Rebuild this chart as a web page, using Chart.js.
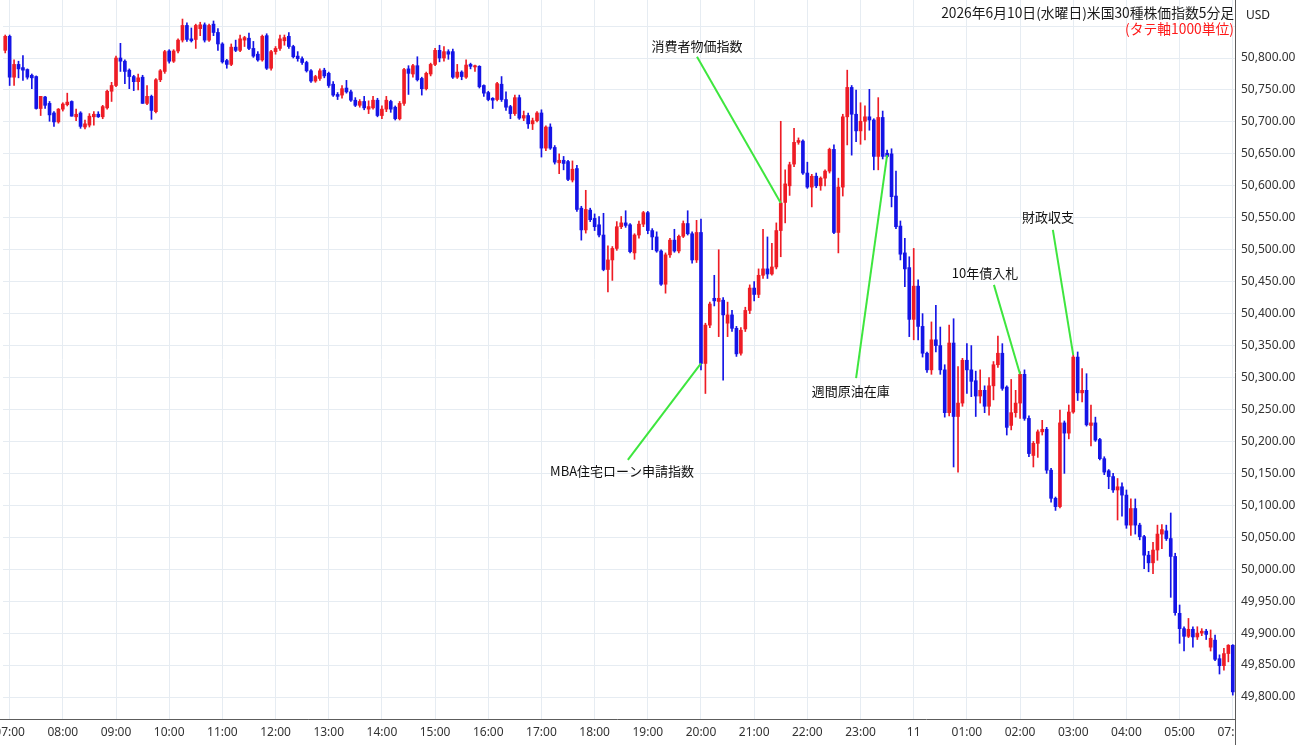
<!DOCTYPE html>
<html lang="ja">
<head>
<meta charset="utf-8">
<title>米国30種株価指数5分足</title>
<script src="https://cdn.jsdelivr.net/npm/chart.js@4.4.1/dist/chart.umd.min.js"></script>
<style>
  html, body { margin: 0; padding: 0; background: #fff; }
  #box { width: 1300px; height: 745px; }
</style>
</head>
<body>
<div id="box"><canvas id="dowChart" width="1300" height="745"></canvas></div>
<script>
// 5-minute candles: 06:55 ... 05:55 (next day), then the 07:00 open
// one row = one hour (12 candles)
const openPrices = [
  50812,
  50834, 50770, 50790, 50785, 50782, 50773, 50771, 50721, 50739, 50729, 50714, 50700,
  50720, 50727, 50732, 50708, 50714, 50692, 50695, 50708, 50712, 50708, 50722, 50748,
  50757, 50800, 50795, 50781, 50771, 50763, 50770, 50729, 50740, 50716, 50766, 50779,
  50811, 50795, 50811, 50828, 50851, 50830, 50829, 50846, 50852, 50828, 50853, 50840,
  50822, 50796, 50790, 50817, 50812, 50828, 50831, 50815, 50806, 50797, 50835, 50784,
  50810, 50815, 50827, 50834, 50818, 50803, 50799, 50793, 50780, 50764, 50768, 50781,
  50776, 50759, 50743, 50742, 50753, 50747, 50734, 50726, 50732, 50720, 50722, 50734,
  50710, 50720, 50732, 50723, 50705, 50729, 50783, 50775, 50788, 50768, 50752, 50775,
  50790, 50812, 50800, 50810, 50810, 50770, 50778, 50770, 50790, 50786, 50787, 50757,
  50746, 50737, 50735, 50759, 50735, 50724, 50713, 50738, 50706, 50710, 50697, 50702,
  50714, 50659, 50692, 50660, 50636, 50640, 50638, 50609, 50627, 50565, 50531, 50562,
  50549, 50539, 50523, 50469, 50484, 50502, 50536, 50542, 50539, 50495, 50523, 50540,
  50558, 50530, 50520, 50498, 50446, 50492, 50515, 50498, 50521, 50541, 50525, 50484,
  50527, 50322, 50382, 50424, 50419, 50421, 50385, 50398, 50377, 50338, 50376, 50405,
  50440, 50430, 50460, 50470, 50462, 50473, 50530, 50574, 50600, 50634, 50668, 50670,
  50620, 50598, 50615, 50600, 50612, 50623, 50657, 50527, 50598, 50708, 50754, 50712,
  50686, 50701, 50708, 50703, 50646, 50707, 50651, 50650, 50584, 50537, 50495, 50472,
  50391, 50443, 50380, 50338, 50312, 50359, 50350, 50312, 50245, 50354, 50239, 50260,
  50327, 50312, 50295, 50271, 50280, 50255, 50287, 50320, 50338, 50285, 50225, 50245,
  50260, 50305, 50236, 50178, 50197, 50215, 50219, 50155, 50111, 50098, 50229, 50213,
  50246, 50332, 50276, 50280, 50225, 50229, 50203, 50173, 50154, 50145, 50124, 50129,
  50116, 50069, 50095, 50069, 50051, 50022, 50010, 50030, 50055, 50060, 50048, 50020,
  49931, 49907, 49895, 49906, 49894, 49900, 49903, 49878, 49889, 49860, 49849, 49868,
  49881
];
const highPrices = [
  50836,
  50836, 50797, 50795, 50804, 50783, 50775, 50772, 50740, 50740, 50732, 50716, 50721,
  50730, 50745, 50733, 50720, 50716, 50703, 50713, 50716, 50716, 50726, 50750, 50762,
  50803, 50823, 50797, 50783, 50773, 50775, 50773, 50757, 50742, 50768, 50782, 50812,
  50813, 50813, 50830, 50861, 50855, 50847, 50853, 50856, 50855, 50853, 50858, 50846,
  50824, 50798, 50822, 50828, 50836, 50834, 50839, 50826, 50810, 50836, 50838, 50812,
  50818, 50836, 50836, 50840, 50820, 50810, 50802, 50795, 50782, 50773, 50783, 50784,
  50778, 50763, 50746, 50757, 50765, 50750, 50738, 50735, 50740, 50733, 50740, 50737,
  50725, 50740, 50734, 50725, 50732, 50784, 50788, 50790, 50802, 50770, 50778, 50792,
  50815, 50820, 50818, 50813, 50814, 50790, 50780, 50797, 50792, 50789, 50788, 50758,
  50748, 50738, 50762, 50771, 50747, 50726, 50742, 50742, 50717, 50714, 50706, 50716,
  50719, 50694, 50697, 50663, 50650, 50646, 50640, 50639, 50632, 50568, 50593, 50565,
  50556, 50552, 50557, 50506, 50505, 50544, 50552, 50561, 50541, 50525, 50545, 50560,
  50560, 50533, 50528, 50500, 50495, 50518, 50532, 50523, 50545, 50561, 50528, 50546,
  50548, 50385, 50418, 50460, 50500, 50425, 50418, 50405, 50380, 50378, 50410, 50445,
  50450, 50470, 50532, 50520, 50510, 50542, 50701, 50625, 50637, 50690, 50675, 50672,
  50637, 50618, 50620, 50614, 50625, 50659, 50664, 50612, 50712, 50781, 50757, 50750,
  50730, 50725, 50751, 50705, 50738, 50717, 50656, 50658, 50623, 50545, 50518, 50489,
  50502, 50453, 50400, 50340, 50387, 50413, 50379, 50320, 50382, 50392, 50317, 50330,
  50353, 50350, 50310, 50312, 50287, 50300, 50325, 50365, 50353, 50287, 50297, 50280,
  50309, 50312, 50240, 50200, 50218, 50233, 50222, 50158, 50113, 50249, 50232, 50257,
  50335, 50340, 50314, 50306, 50257, 50238, 50205, 50176, 50156, 50150, 50142, 50135,
  50124, 50110, 50110, 50072, 50053, 50028, 50042, 50069, 50070, 50069, 50088, 50025,
  49944, 49910, 49923, 49910, 49910, 49907, 49906, 49905, 49897, 49866, 49876, 49882,
  49882
];
const lowPrices = [
  50808,
  50757, 50757, 50769, 50765, 50767, 50752, 50720, 50710, 50721, 50701, 50693, 50698,
  50717, 50725, 50709, 50702, 50690, 50689, 50692, 50695, 50707, 50705, 50720, 50732,
  50755, 50779, 50760, 50752, 50749, 50750, 50729, 50727, 50704, 50714, 50763, 50776,
  50792, 50793, 50808, 50825, 50826, 50825, 50815, 50835, 50825, 50826, 50835, 50812,
  50792, 50784, 50788, 50810, 50810, 50818, 50813, 50801, 50795, 50795, 50782, 50781,
  50806, 50812, 50820, 50815, 50800, 50795, 50790, 50778, 50762, 50762, 50765, 50769,
  50754, 50740, 50735, 50737, 50745, 50732, 50724, 50723, 50719, 50713, 50720, 50708,
  50705, 50716, 50715, 50703, 50703, 50726, 50743, 50770, 50764, 50742, 50750, 50772,
  50788, 50794, 50795, 50798, 50768, 50768, 50766, 50768, 50783, 50779, 50753, 50740,
  50733, 50721, 50733, 50732, 50718, 50705, 50710, 50704, 50702, 50690, 50688, 50700,
  50645, 50655, 50657, 50634, 50619, 50625, 50608, 50606, 50560, 50515, 50526, 50544,
  50530, 50520, 50467, 50434, 50452, 50499, 50533, 50535, 50495, 50485, 50518, 50536,
  50525, 50500, 50496, 50444, 50432, 50488, 50496, 50495, 50519, 50523, 50479, 50480,
  50312, 50275, 50378, 50412, 50364, 50296, 50364, 50372, 50333, 50335, 50372, 50400,
  50420, 50425, 50455, 50455, 50460, 50470, 50489, 50542, 50585, 50630, 50665, 50618,
  50596, 50567, 50597, 50593, 50600, 50620, 50525, 50495, 50584, 50664, 50648, 50669,
  50665, 50672, 50687, 50625, 50625, 50642, 50644, 50567, 50533, 50484, 50442, 50364,
  50359, 50359, 50332, 50308, 50305, 50340, 50305, 50238, 50240, 50160, 50152, 50255,
  50275, 50270, 50239, 50260, 50245, 50241, 50265, 50316, 50280, 50210, 50218, 50238,
  50236, 50233, 50176, 50160, 50175, 50210, 50150, 50105, 50092, 50096, 50150, 50204,
  50244, 50264, 50262, 50224, 50193, 50200, 50171, 50148, 50126, 50120, 50077, 50083,
  50064, 50053, 50055, 50046, 50001, 49996, 49993, 50014, 50032, 50045, 49956, 49928,
  49884, 49872, 49893, 49878, 49890, 49896, 49890, 49872, 49857, 49836, 49842, 49855,
  49803
];
const closePrices = [
  50834,
  50770, 50790, 50783, 50781, 50770, 50769, 50721, 50740, 50726, 50711, 50700, 50720,
  50728, 50731, 50709, 50712, 50693, 50697, 50709, 50712, 50708, 50724, 50748, 50757,
  50800, 50795, 50779, 50771, 50763, 50769, 50729, 50740, 50718, 50766, 50780, 50810,
  50795, 50811, 50828, 50851, 50829, 50827, 50851, 50852, 50828, 50851, 50840, 50822,
  50794, 50790, 50817, 50812, 50830, 50832, 50815, 50803, 50797, 50834, 50784, 50810,
  50815, 50830, 50832, 50818, 50802, 50799, 50793, 50780, 50764, 50771, 50780, 50772,
  50757, 50742, 50740, 50752, 50747, 50734, 50726, 50732, 50722, 50724, 50734, 50710,
  50720, 50734, 50720, 50705, 50729, 50782, 50776, 50788, 50766, 50752, 50776, 50790,
  50812, 50800, 50810, 50806, 50770, 50778, 50771, 50789, 50787, 50788, 50755, 50745,
  50735, 50734, 50760, 50735, 50723, 50713, 50738, 50706, 50710, 50697, 50702, 50714,
  50659, 50692, 50659, 50637, 50640, 50635, 50610, 50626, 50563, 50531, 50563, 50547,
  50536, 50523, 50469, 50484, 50502, 50536, 50542, 50538, 50497, 50523, 50540, 50558,
  50530, 50520, 50498, 50446, 50492, 50515, 50498, 50521, 50541, 50525, 50484, 50527,
  50322, 50382, 50415, 50420, 50424, 50398, 50398, 50377, 50337, 50374, 50405, 50440,
  50430, 50460, 50470, 50462, 50473, 50530, 50573, 50603, 50633, 50668, 50671, 50620,
  50598, 50615, 50600, 50612, 50623, 50657, 50527, 50598, 50708, 50754, 50712, 50686,
  50701, 50708, 50703, 50646, 50707, 50646, 50646, 50583, 50536, 50493, 50470, 50391,
  50443, 50380, 50338, 50312, 50359, 50350, 50312, 50245, 50354, 50239, 50260, 50327,
  50312, 50294, 50271, 50280, 50255, 50287, 50320, 50338, 50283, 50222, 50245, 50260,
  50305, 50236, 50181, 50197, 50215, 50219, 50155, 50111, 50098, 50229, 50213, 50246,
  50332, 50276, 50280, 50226, 50229, 50202, 50173, 50152, 50145, 50124, 50129, 50116,
  50069, 50095, 50069, 50051, 50022, 50010, 50030, 50055, 50062, 50048, 50020, 49932,
  49907, 49895, 49906, 49894, 49900, 49903, 49898, 49892, 49859, 49849, 49868, 49881,
  49808
];

const priceTicks = [49800, 49850, 49900, 49950, 50000, 50050, 50100, 50150, 50200, 50250, 50300,
                    50350, 50400, 50450, 50500, 50550, 50600, 50650, 50700, 50750, 50800, 50850];

const chartTitle = '2026年6月10日(水曜日)米国30種株価指数5分足';
const chartNote = '(タテ軸1000単位)';
const currency = 'USD';

// economic releases: name, candle index it points at, price at the tip
const eventNames = ['消費者物価指数', 'MBA住宅ローン申請指数', '週間原油在庫', '10年債入札', '財政収支'];
const eventCandles = [175, 157, 199, 229, 241];
const eventPrices = [50573, 50322, 50648, 50305, 50335];

const RED = '#ee1c25';
const BLUE = '#1414e6';
const GRID = '#e6ecf2';
const pad2 = n => String(n).padStart(2, '0');

// time labels (market pauses 06:00-07:00)
function buildTimes() {
  const out = [];
  for (let m = 6 * 60 + 55; m <= 29 * 60 + 55; m += 5) {
    out.push(pad2(Math.floor(m / 60) % 24) + ':' + pad2(m % 60));
  }
  out.push('07:00');
  return out;
}
const times = buildTimes();

// where each note label sits (category index, price) and where its line starts
const noteSpots = [
  { label: [156.1, 50819], from: [156.1, 50802] },
  { label: [139.2, 50154], from: [140.5, 50171] },
  { label: [190.8, 50279], from: [192.0, 50299] },
  { label: [221.1, 50464], from: [223.1, 50445] },
  { label: [235.3, 50551], from: [236.4, 50531] }
];

const frameLines = {
  id: 'frameLines',
  afterDraw(chart) {
    const { ctx, chartArea } = chart;
    const x = Math.round(chartArea.right) + 0.5;
    const y = Math.round(chartArea.bottom) + 0.5;
    ctx.save();
    // time labels are cut off at the price panel
    ctx.fillStyle = '#fff';
    ctx.fillRect(x, y, chart.width - x, chart.height - y);
    ctx.strokeStyle = '#5c5c5c';
    ctx.lineWidth = 1;
    ctx.beginPath();
    ctx.moveTo(x, 0); ctx.lineTo(x, chart.height);
    ctx.moveTo(0, y); ctx.lineTo(x, y);
    ctx.stroke();
    ctx.restore();
  }
};

const headerText = {
  id: 'headerText',
  afterDraw(chart) {
    const { ctx, chartArea } = chart;
    ctx.save();
    ctx.textAlign = 'right';
    ctx.textBaseline = 'middle';
    ctx.font = '13.8px "Noto Sans CJK JP"';
    ctx.fillStyle = '#1a1a1a';
    ctx.fillText(chartTitle, chartArea.right - 1, 13);
    ctx.fillStyle = '#ff1a1a';
    ctx.fillText(chartNote, chartArea.right - 1, 29);
    ctx.textAlign = 'left';
    ctx.font = '12px "Noto Sans"';
    ctx.fillStyle = '#222';
    ctx.fillText(currency, chartArea.right + 11, 16);
    ctx.restore();
  }
};

const eventNotes = {
  id: 'eventNotes',
  afterDatasetsDraw(chart) {
    const { ctx } = chart;
    const xs = chart.scales.x, ys = chart.scales.y;
    ctx.save();
    eventNames.forEach((name, i) => {
      const spot = noteSpots[i];
      ctx.strokeStyle = '#3ee63e';
      ctx.lineWidth = 2;
      ctx.beginPath();
      ctx.moveTo(xs.getPixelForValue(spot.from[0]), ys.getPixelForValue(spot.from[1]));
      ctx.lineTo(xs.getPixelForValue(eventCandles[i]), ys.getPixelForValue(eventPrices[i]));
      ctx.stroke();
      ctx.font = '13px "Noto Sans CJK JP"';
      ctx.fillStyle = '#111';
      ctx.textAlign = 'center';
      ctx.textBaseline = 'middle';
      ctx.fillText(name, xs.getPixelForValue(spot.label[0]), ys.getPixelForValue(spot.label[1]));
    });
    ctx.restore();
  }
};

const candleColors = closePrices.map((c, i) => c >= openPrices[i] ? RED : BLUE);

new Chart(document.getElementById('dowChart').getContext('2d'), {
  type: 'bar',
  data: {
    labels: times,
    datasets: [
      {
        label: 'body',
        data: openPrices.map((o, i) => [o, closePrices[i]]),
        backgroundColor: candleColors,
        barThickness: 3,
        minBarLength: 1,
        grouped: false,
        order: 1
      },
      {
        label: 'wick',
        data: lowPrices.map((l, i) => [l, highPrices[i]]),
        backgroundColor: candleColors,
        barThickness: 1,
        grouped: false,
        order: 2
      }
    ]
  },
  options: {
    responsive: false,
    animation: false,
    devicePixelRatio: 1,
    events: [],
    layout: { padding: { left: 3, right: 0, top: 0, bottom: 0 } },
    plugins: { legend: { display: false }, tooltip: { enabled: false } },
    scales: {
      x: {
        type: 'category',
        offset: true,
        grid: { offset: false, color: GRID, drawTicks: false },
        border: { display: false },
        ticks: {
          autoSkip: false,
          maxRotation: 0,
          padding: 6,
          color: '#333',
          font: { family: 'Noto Sans', size: 12 },
          callback: function (val) {
            const t = this.getLabelForValue(val);
            if (!t.endsWith(':00')) return null;
            return t === '00:00' ? '11' : t;
          }
        },
        afterFit(s) { s.height = 26; s.paddingLeft = 0; s.paddingRight = 0; }
      },
      y: {
        position: 'right',
        min: 49765.6,
        max: 50890.8,
        grid: { color: GRID, drawTicks: false },
        border: { display: false },
        afterBuildTicks(s) { s.ticks = priceTicks.map(v => ({ value: v })); },
        ticks: {
          padding: 6,
          color: '#333',
          font: { family: 'Noto Sans', size: 12 },
          callback: v => v > 50800 ? '' : v.toLocaleString('en-US', { minimumFractionDigits: 2, maximumFractionDigits: 2 })
        },
        afterFit(s) { s.width = 65; s.paddingTop = 0; s.paddingBottom = 0; }
      }
    }
  },
  plugins: [frameLines, eventNotes, headerText]
});
</script>
</body>
</html>
